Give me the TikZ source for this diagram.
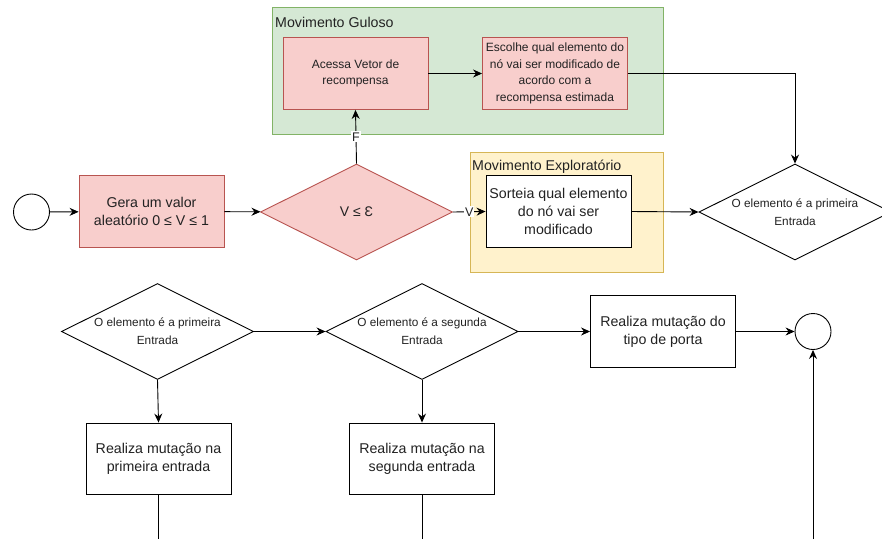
\documentclass[tikz,border=0pt]{standalone}
\usepackage{fontspec}
\setmainfont{Liberation Sans}
\usetikzlibrary{shapes.geometric,arrows.meta}
\definecolor{pinkfill}{HTML}{F8CECC}
\definecolor{pinkline}{HTML}{B85450}
\definecolor{greenfill}{HTML}{D5E8D4}
\definecolor{greenline}{HTML}{82B366}
\definecolor{yellowfill}{HTML}{FFF2CC}
\definecolor{yellowline}{HTML}{D6B656}
\definecolor{txt}{HTML}{222222}
\tikzset{
  every node/.style={text=txt, align=center},
  box/.style={draw=black, fill=white, line width=0.9pt, rectangle, minimum width=145pt, minimum height=72pt, inner sep=2pt, font=\fontsize{14.2}{18}\selectfont},
  pinkbox/.style={box, draw=pinkline, fill=pinkfill},
  smalltext/.style={font=\fontsize{12}{16.5}\selectfont},
  decision/.style={draw=black, fill=white, line width=0.9pt, diamond, shape aspect=2, minimum width=192pt, minimum height=96pt, inner sep=0pt, font=\fontsize{11.8}{18}\selectfont},
  terminal/.style={draw=black, fill=white, line width=0.9pt, circle, minimum size=36pt, inner sep=0pt},
  group/.style={rectangle, line width=0.9pt, anchor=north west, inner sep=0pt},
  grouplabel/.style={anchor=west, inner sep=0pt, font=\fontsize{14.2}{16}\selectfont},
  flow/.style={line width=0.9pt, -{Stealth[length=9pt,width=8pt,inset=3pt]}},
  plain/.style={line width=0.9pt},
  edgelabel/.style={fill=white, inner sep=1pt, font=\fontsize{12.5}{13}\selectfont}
}
\begin{document}
\begin{tikzpicture}[x=1pt,y=-1pt]
\clip (0,0) rectangle (882,539);
\fill[white] (0,0) rectangle (882,539);

% containers
\node[group, draw=greenline, fill=greenfill, minimum width=391pt, minimum height=127pt] (guloso) at (272,7) {};
\node[grouplabel] (gulosolbl) at (275,22) {Movimento Guloso};
\node[group, draw=yellowline, fill=yellowfill, minimum width=193pt, minimum height=120pt] (explor) at (470,152) {};
\node[grouplabel] (explorlbl) at (472,167) {Movimento Exploratório};

% first row
\node[terminal] (start) at (31.5,212) {};
\node[pinkbox] (gera) at (151.5,211.5) {Gera um valor\\aleatório 0 ≤ V ≤ 1};
\node[decision, draw=pinkline, fill=pinkfill, font=\fontsize{14}{16}\selectfont] (veps) at (356.5,212) {V ≤ Ɛ};
\node[pinkbox, smalltext] (acessa) at (355.5,73.5) {Acessa Vetor de\\recompensa};
\node[pinkbox, smalltext] (escolhe) at (555,73.5) {Escolhe qual elemento do\\nó vai ser modificado de\\acordo com a\\recompensa estimada};
\node[box] (sorteia) at (558.5,211.5) {Sorteia qual elemento\\do nó vai ser\\modificado};
\node[decision] (prim1) at (795,212) {O elemento é a primeira\\Entrada};

% second row
\node[decision] (prim2) at (157.5,331.5) {O elemento é a primeira\\Entrada};
\node[decision] (seg) at (422,331.5) {O elemento é a segunda\\Entrada};
\node[box] (porta) at (663,331.5) {Realiza mutação do\\tipo de porta};
\node[terminal] (fim) at (813,331.5) {};
\node[box, minimum height=71pt] (mutprim) at (158.5,458.5) {Realiza mutação na\\primeira entrada};
\node[box, minimum height=71pt] (mutseg) at (422,458.5) {Realiza mutação na\\segunda entrada};

\coordinate (corner) at (795,73.5);
\coordinate (outprim) at (158.5,539);
\coordinate (outseg) at (422,539);
\coordinate (infim) at (813,539);

% connectors
\draw[flow] (start) -- (gera);
\draw[flow] (gera) -- (veps);
\draw[flow] (veps.north) -- node[edgelabel, pos=0.5] {F} (acessa.south);
\draw[flow] (veps.east) -- node[edgelabel, pos=0.5] {V} (sorteia.west);
\draw[flow] (acessa) -- (escolhe);
\draw[flow] (escolhe.east) -- (corner) -- (prim1.north);
\draw[flow] (sorteia.east) -- (prim1.west);
\draw[flow] (prim2.east) -- (seg.west);
\draw[flow] (seg.east) -- (porta.west);
\draw[flow] (porta.east) -- (fim.west);
\draw[flow] (prim2.south) -- (mutprim.north);
\draw[flow] (seg.south) -- (mutseg.north);
\draw[plain] (mutprim.south) -- (outprim);
\draw[plain] (mutseg.south) -- (outseg);
\draw[flow] (infim) -- (fim.south);
\end{tikzpicture}
\end{document}
